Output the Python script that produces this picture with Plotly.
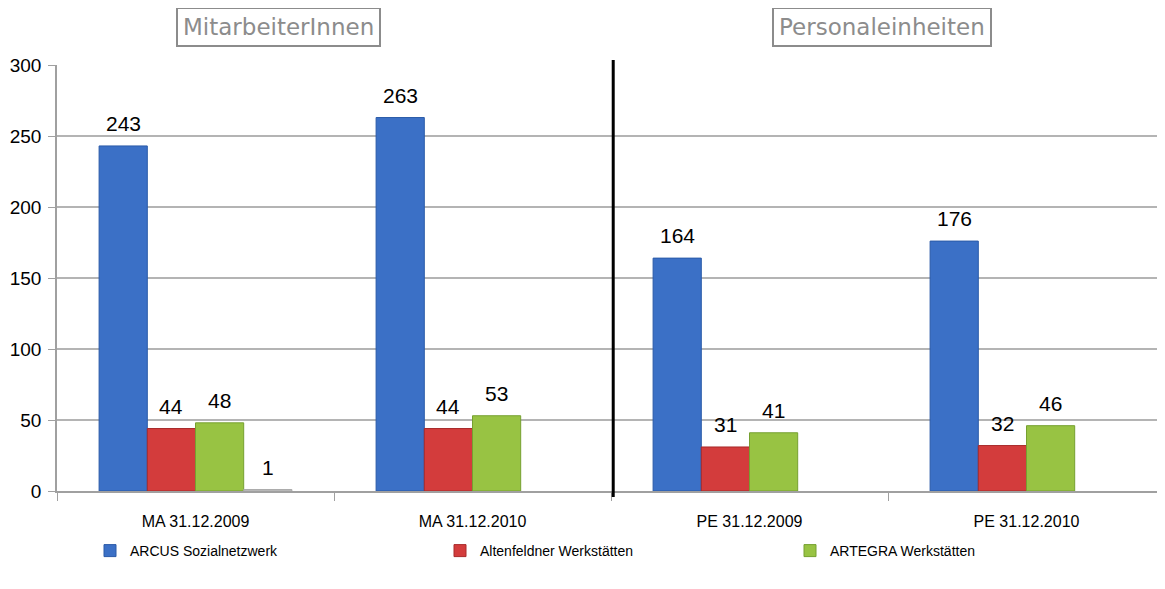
import plotly.graph_objects as go


# ======================================================
# Data
# ======================================================

categories = ["MA 31.12.2009", "MA 31.12.2010", "PE 31.12.2009", "PE 31.12.2010"]

arcus = [243, 263, 164, 176]
altenfeldner = [44, 44, 31, 32]
artegra = [48, 53, 41, 46]
sonstige = [1, None, None, None]

y_ticks = [0, 50, 100, 150, 200, 250, 300]

label_font = "Liberation Sans Narrow, Liberation Sans, Arial"


# ======================================================
# Figure
# ======================================================

fig = go.Figure()

series = [
    ("ARCUS Sozialnetzwerk", arcus, "#3b70c6", "#2a5aa8", "legend"),
    ("Altenfeldner Werkstätten", altenfeldner, "#d33c3c", "#a82a2a", "legend2"),
    ("ARTEGRA Werkstätten", artegra, "#98c343", "#76a030", "legend3"),
    ("Sonstige", sonstige, "#c8c8c8", "#a8a8a8", None),
]

for name, values, color, edge, leg in series:
    fig.add_trace(
        go.Bar(
            x=categories,
            y=values,
            name=name,
            marker=dict(color=color, line=dict(color=edge, width=1)),
            showlegend=leg is not None,
            legend=leg if leg else "legend",
        )
    )

# page body adds an 8px offset, so everything is placed 8px up/left
plot_w = 1165 - 49 - 8
bargap = 0.304
bar_px = plot_w / len(categories) * (1 - bargap) / len(series)

# value labels, lifted a bit above the bars like in the original
for i, (name, values, color, edge, leg) in enumerate(series):
    for cat, v in zip(categories, values):
        if v is None:
            continue
        fig.add_annotation(
            x=cat,
            y=v,
            xref="x",
            yref="y",
            text=str(v),
            showarrow=False,
            xanchor="center",
            yanchor="bottom",
            xshift=(i - (len(series) - 1) / 2) * bar_px,
            yshift=9,
            font=dict(family=label_font, size=21, color="black"),
        )

legend_style = dict(
    orientation="h",
    xref="container",
    yref="container",
    y=(589 - 543) / 589,
    xanchor="left",
    yanchor="middle",
    itemwidth=30,
    bgcolor="rgba(0,0,0,0)",
    font=dict(family=label_font, size=14, color="black"),
)

fig.update_layout(
    width=1165,
    height=589,
    margin=dict(l=49, r=8, t=57, b=106, autoexpand=False),
    paper_bgcolor="white",
    plot_bgcolor="white",
    barmode="group",
    bargap=bargap,
    bargroupgap=0,
    font=dict(family=label_font, size=16, color="black"),
    legend=dict(legend_style, x=82 / 1165),
    legend2=dict(legend_style, x=432 / 1165),
    legend3=dict(legend_style, x=782 / 1165),
    xaxis=dict(
        showgrid=False,
        showline=True,
        linecolor="#a0a0a0",
        linewidth=1.5,
        ticks="outside",
        tickson="boundaries",
        ticklen=8,
        tickcolor="#a0a0a0",
        ticklabelstandoff=15,
        tickfont=dict(family=label_font, size=16),
    ),
    yaxis=dict(
        range=[0, 300],
        tickvals=y_ticks,
        showgrid=True,
        gridcolor="#b4b4b4",
        gridwidth=1.5,
        showline=True,
        linecolor="#a0a0a0",
        linewidth=1.5,
        ticks="outside",
        ticklen=7,
        tickcolor="#a0a0a0",
        ticklabelstandoff=3,
        tickfont=dict(family=label_font, size=19),
        zeroline=False,
    ),
)

# ======================================================
# Section titles and divider
# ======================================================

for text, xpos in [("MitarbeiterInnen", 0.1995), ("Personaleinheiten", 0.745)]:
    fig.add_annotation(
        text=text,
        xref="paper",
        yref="paper",
        x=xpos,
        y=1.089,
        xanchor="center",
        yanchor="middle",
        showarrow=False,
        font=dict(family="DejaVu Sans", size=23, color="#8c8c8c"),
        bordercolor="#8c8c8c",
        borderwidth=2,
        borderpad=5,
        bgcolor="white",
    )

fig.add_shape(
    type="line",
    xref="paper",
    yref="paper",
    x0=0.502,
    x1=0.502,
    y0=-0.014,
    y1=1.012,
    line=dict(color="black", width=3),
)

fig.write_html("out.html")
